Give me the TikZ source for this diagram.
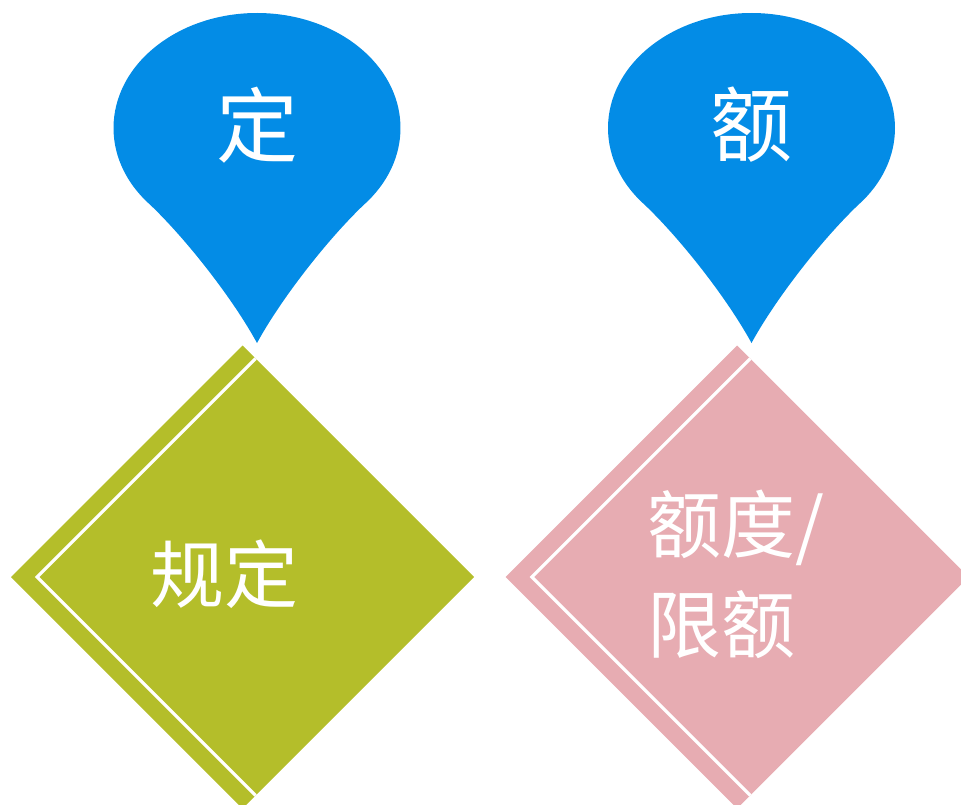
\documentclass[tikz,border=0pt]{standalone}
\usepackage{fontspec}
\newfontfamily\cjk{Noto Sans CJK SC}
\definecolor{pinblue}{RGB}{3,140,230}
\definecolor{diagreen}{RGB}{180,190,42}
\definecolor{diapink}{RGB}{231,172,178}
\tikzset{
  pinpic/.pic={
    \fill[pinblue] (0,-215) .. controls (-24,-171) and (-70,-112) .. (-106.64,-76.95)
      arc[start angle=222, end angle=-42, x radius=143.5, y radius=115]
      .. controls (70,-112) and (24,-171) .. (0,-215) -- cycle;
  },
  diapic/.pic={
    \fill[pic actions] (-14.5,231.5) -- (-246,0) -- (-14.5,-231.5) -- (0,-217) -- (217,0) -- (0,217) -- cycle;
    \draw[white, line width=3.2pt, line cap=butt, line join=miter] (-1.41,218.41) -- (-219.83,0) -- (-1.41,-218.41);
  },
  pintext/.style={text=white, inner sep=0pt, font=\cjk\fontsize{82}{98}\selectfont},
  diatext/.style={text=white, inner sep=0pt, font=\cjk\fontsize{74}{100}\selectfont},
}
\begin{document}
\begin{tikzpicture}[x=1pt,y=1pt]
\useasboundingbox (0,0) rectangle (961,-805);
\clip (0,0) rectangle (961,-805);
\pic at (257,-128) {pinpic};
\pic at (751.5,-128) {pinpic};
\pic[fill=diagreen] at (257,-577) {diapic};
\pic[fill=diapink] at (751.7,-577) {diapic};
\node[pintext] (t1) at (257,-125) {定};
\node[pintext] (t2) at (751.5,-125) {额};
\node[diatext] (d1) at (224,-574) {规定};
\node[diatext, align=left, anchor=north west] (d2) at (647,-490) {额度/\\限额};
\end{tikzpicture}
\end{document}
